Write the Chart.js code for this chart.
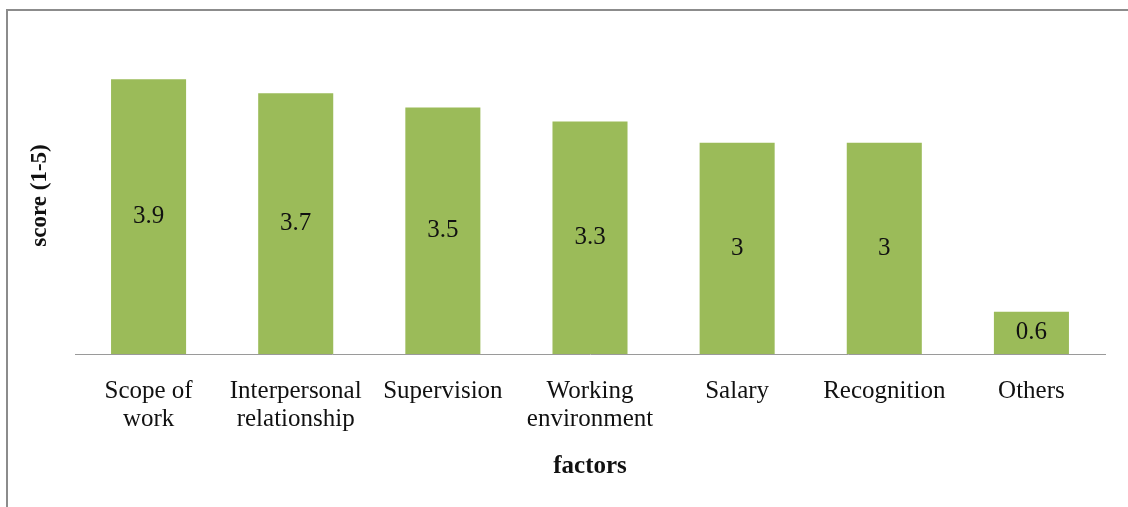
<!DOCTYPE html>
<html>
<head>
<meta charset="utf-8">
<script src="https://cdn.jsdelivr.net/npm/chart.js@4"></script>
<style>
  html, body { margin: 0; padding: 0; background: #fff; }
  #wrap { position: relative; width: 1128px; height: 507px; }
  #frame { position: absolute; left: 6px; top: 9px; right: 0; bottom: 0;
           border-top: 2px solid #8c8c8c; border-left: 2px solid #8c8c8c; pointer-events: none; }
</style>
</head>
<body>
<div id="wrap">
  <canvas id="chart" width="1128" height="507"></canvas>
  <div id="frame"></div>
</div>
<script>
const factors = [["Scope of", "work"], ["Interpersonal", "relationship"], "Supervision",
                 ["Working", "environment"], "Salary", "Recognition", "Others"];
const scores = [3.9, 3.7, 3.5, 3.3, 3, 3, 0.6];

const SERIF = "'Liberation Serif', 'Times New Roman', serif";

// value printed in the middle of each bar
const barValues = {
  id: "barValues",
  afterDatasetsDraw(chart){
    const ctx = chart.ctx;
    const meta = chart.getDatasetMeta(0);
    ctx.save();
    ctx.font = "25px " + SERIF;
    ctx.fillStyle = "#111";
    ctx.textAlign = "center";
    ctx.textBaseline = "middle";
    meta.data.forEach((bar, i) => {
      const mid = (bar.y + bar.base) / 2;
      ctx.fillText(String(scores[i]), bar.x, mid);
    });
    ctx.restore();
  }
};

new Chart(document.getElementById("chart").getContext("2d"), {
  type: "bar",
  data: {
    labels: factors,
    datasets: [{
      data: scores,
      backgroundColor: "#9bbb59",
      categoryPercentage: 1,
      barPercentage: 0.51
    }]
  },
  options: {
    responsive: false,
    animation: false,
    layout: { padding: { top: 37, right: 23, left: 0, bottom: 0 } },
    plugins: { legend: { display: false }, tooltip: { enabled: false } },
    scales: {
      x: {
        grid: { display: false, drawTicks: false },
        border: { display: true, color: "#9a9a9a", width: 1 },
        ticks: { color: "#111", padding: 23, maxRotation: 0, autoSkip: false,
                 font: { family: SERIF, size: 25, lineHeight: 1.12 } },
        title: { display: true, text: "factors", color: "#111",
                 font: { family: SERIF, size: 25, weight: "bold", lineHeight: 1 },
                 padding: { top: 0, bottom: 28 } },
        afterFit(scale){ scale.height = 153; }
      },
      y: {
        min: 0, max: 4.5,
        grid: { display: false },
        border: { display: false },
        ticks: { display: false },
        title: { display: true, text: "score (1-5)", color: "#111",
                 font: { family: SERIF, size: 23, weight: "bold", lineHeight: 1 },
                 padding: { top: 29, bottom: 0 } },
        afterFit(scale){ scale.width = 75; }
      }
    }
  },
  plugins: [barValues]
});
</script>
</body>
</html>
